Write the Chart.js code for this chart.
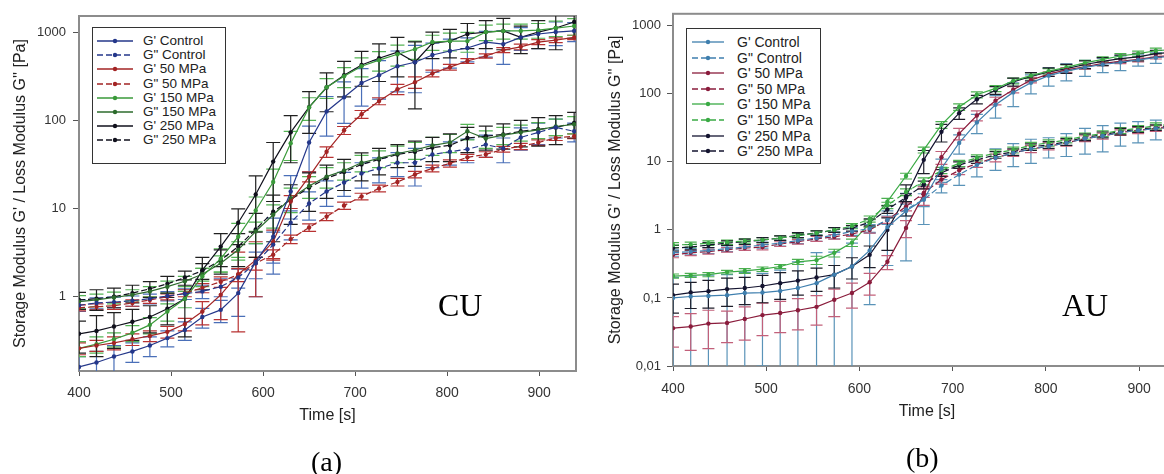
<!DOCTYPE html>
<html>
<head>
<meta charset="utf-8">
<script src="https://cdn.jsdelivr.net/npm/chart.js@4.4.0/dist/chart.umd.min.js"></script>
<style>
  body { margin: 0; width: 1164px; height: 474px; overflow: hidden; background: #fff; position: relative;
         font-family: "Liberation Sans", Arial, sans-serif; }
  .wrap { position: absolute; top: 0; height: 474px; }
  #wrapA { left: 0; width: 600px; }
  #wrapB { left: 590px; width: 620px; }
  .legend { position: absolute; background: #fff; border: 1px solid #333; box-sizing: border-box; color: #222; }
  .legend .row { position: absolute; left: 0; white-space: nowrap; }
  .legend svg { position: absolute; top: 0; }
  .legend span { position: absolute; top: 0; }
  .tag { position: absolute; font-family: "Liberation Serif", "Times New Roman", serif; color: #000; line-height: 1; white-space: nowrap; }
</style>
</head>
<body>
<div class="wrap" id="wrapA"><canvas id="chartA"></canvas></div>
<div class="wrap" id="wrapB"><canvas id="chartB"></canvas></div>
<div class="legend" id="legendA" style="left:92px;top:27px;width:134px;height:137px;font-size:13.5px"></div>
<div class="legend" id="legendB" style="left:686px;top:28px;width:135px;height:136px;font-size:14px"></div>
<div class="tag" style="left:438px;top:289px;font-size:32px">CU</div>
<div class="tag" style="left:1062px;top:289px;font-size:32px">AU</div>
<div class="tag" style="left:311px;top:448px;font-size:28px">(a)</div>
<div class="tag" style="left:906px;top:444px;font-size:28px">(b)</div>
<script>
// measurement times [s]
const times = [400, 419, 438, 458, 477, 496, 515, 534, 554, 573, 592, 611, 630, 650, 669,
  688, 707, 726, 746, 765, 784, 803, 822, 842, 861, 880, 899, 918, 938];

const seriesNames = ["G' Control", 'G" Control', "G' 50 MPa", 'G" 50 MPa',
  "G' 150 MPa", 'G" 150 MPa', "G' 250 MPa", 'G" 250 MPa'];

const xTicks = [400, 500, 600, 700, 800, 900];
const yTicksA = [1, 10, 100, 1000];
const yTickLabelsA = ["1", "10", "100", "1000"];
const yTicksB = [0.01, 0.1, 1, 10, 100, 1000];
const yTickLabelsB = ["0,01", "0,1", "1", "10", "100", "1000"];

// ---- panel (a) CU ----
const gpControlA = [0.16, 0.18, 0.21, 0.24, 0.28, 0.34, 0.42, 0.59, 0.71, 1.1, 2.5, 4.8, 15.6, 56, 126,
  182, 265, 324, 410, 455, 550, 610, 660, 770, 730, 870, 950, 1000, 1030];
const gpControlAErr = [0.05, 0.06, 0.07, 0.06, 0.07, 0.07, 0.1, 0.15, 0.2, 0.5, 1.5, 3, 8, 30, 60,
  90, 120, 150, 200, 250, 200, 220, 200, 250, 300, 250, 300, 300, 250];
const gppControlA = [0.8, 0.85, 0.87, 0.9, 0.95, 1.02, 1.08, 1.15, 1.3, 1.65, 2.4, 3.9, 6.9, 11.4, 15.6,
  19.7, 25, 28.5, 33, 33, 41, 44, 47, 53, 48, 64, 73, 83, 75];
const gppControlAErr = [0.12, 0.12, 0.12, 0.12, 0.12, 0.12, 0.15, 0.2, 0.3, 0.4, 0.8, 1.5, 2.5, 4, 5,
  6, 8, 9, 10, 15, 12, 13, 14, 15, 15, 18, 20, 20, 18];
const gp50A = [0.26, 0.28, 0.30, 0.33, 0.36, 0.40, 0.49, 0.68, 1.05, 1.8, 2.6, 4.2, 12, 23, 44,
  77, 117, 165, 225, 270, 340, 400, 470, 535, 625, 680, 770, 810, 870];
const gp50AErr = [0.04, 0.04, 0.05, 0.05, 0.05, 0.06, 0.08, 0.2, 0.5, 1.4, 1.6, 1.5, 2, 3, 6,
  8, 12, 15, 30, 40, 30, 30, 30, 30, 40, 50, 50, 50, 50];
const gpp50A = [0.75, 0.77, 0.79, 0.85, 0.92, 1.0, 1.1, 1.26, 1.48, 1.78, 2.4, 3.0, 4.5, 6.1, 8.1,
  10.8, 13.7, 16.9, 20, 24.3, 28.5, 32.5, 38, 41, 47, 50.6, 56, 63, 66];
const gpp50AErr = [0.06, 0.06, 0.07, 0.07, 0.08, 0.08, 0.1, 0.15, 0.2, 0.3, 0.4, 0.4, 0.5, 0.6, 0.8,
  1, 1.2, 1.5, 2, 2, 2.5, 3, 3, 3, 3.5, 4, 4, 4, 4];
const gp150A = [0.26, 0.29, 0.33, 0.39, 0.48, 0.68, 0.95, 1.7, 2.7, 4.8, 9.5, 20, 55, 140, 237,
  315, 410, 480, 560, 640, 770, 790, 790, 1000, 1030, 1030, 1050, 1110, 1170];
const gp150AErr = [0.05, 0.06, 0.06, 0.08, 0.1, 0.15, 0.2, 0.4, 0.8, 2, 4, 8, 20, 40, 60,
  80, 100, 120, 150, 150, 150, 180, 200, 200, 200, 200, 200, 220, 250];
const gpp150A = [0.88, 0.92, 0.98, 1.05, 1.15, 1.3, 1.5, 1.8, 2.4, 3.4, 5.5, 8.5, 13, 18, 23,
  27, 33, 37, 42, 46, 52, 56, 75, 62, 68, 73, 78, 85, 90];
const gpp150AErr = [0.15, 0.15, 0.15, 0.15, 0.15, 0.2, 0.2, 0.3, 0.5, 0.8, 1.5, 2.5, 4, 5, 6,
  6, 7, 8, 9, 10, 12, 13, 15, 14, 15, 15, 16, 18, 20];
const gp250A = [0.38, 0.41, 0.46, 0.52, 0.59, 0.73, 0.95, 2.0, 3.7, 6.9, 14.4, 34, 73, 141, 235,
  324, 423, 505, 590, 455, 750, 790, 950, 1000, 1030, 870, 1000, 1110, 1300];
const gp250AErr = [0.15, 0.2, 0.2, 0.2, 0.2, 0.25, 0.6, 0.8, 1.5, 3, 9, 22, 40, 70, 110,
  140, 180, 230, 280, 320, 250, 280, 300, 350, 400, 300, 350, 480, 450];
const gpp250A = [0.92, 0.95, 1.0, 1.1, 1.23, 1.4, 1.65, 1.97, 2.6, 3.7, 5.8, 9.2, 12.6, 17.3, 22,
  26, 31.6, 36, 41, 44, 49, 52, 63, 66, 69, 75, 79, 83, 93];
const gpp250AErr = [0.2, 0.25, 0.25, 0.25, 0.25, 0.3, 0.3, 0.4, 0.8, 1.5, 3, 5, 6, 8, 9,
  10, 11, 12, 12, 14, 15, 18, 20, 20, 22, 25, 28, 30, 30];

// ---- panel (b) AU ----
const gpControlB = [0.10, 0.105, 0.107, 0.11, 0.118, 0.12, 0.127, 0.14, 0.165, 0.22, 0.29, 0.5, 1.1, 1.9, 2.8,
  8, 19, 38, 69, 105, 145, 185, 215, 245, 270, 290, 315, 340, 360];
const gpControlBErr = [0.1, 0.105, 0.11, 0.11, 0.12, 0.11, 0.13, 0.2, 0.3, 0.25, 0.35, 0.42, 0.8, 1.55, 1.6,
  3, 6, 12, 25, 40, 45, 55, 60, 65, 65, 70, 60, 60, 65];
const gppControlB = [0.46, 0.48, 0.5, 0.53, 0.56, 0.6, 0.64, 0.7, 0.76, 0.84, 0.95, 1.05, 1.4, 2.0, 2.8,
  4.5, 6.5, 9, 11.5, 13.5, 15.5, 17, 19, 22, 24, 27, 29, 31, 32];
const gppControlBErr = [0.05, 0.05, 0.05, 0.05, 0.06, 0.06, 0.06, 0.07, 0.08, 0.1, 0.12, 0.15, 0.2, 0.4, 0.6,
  1, 2, 3, 4, 5, 6, 5.6, 7, 9, 10, 10, 10, 10, 10];
const gp50B = [0.036, 0.038, 0.042, 0.043, 0.049, 0.056, 0.06, 0.066, 0.074, 0.094, 0.118, 0.17, 0.34, 1.07, 3.3,
  11.7, 26, 48, 79, 115, 160, 195, 225, 250, 280, 300, 320, 350, 370];
const gp50BErr = [0.017, 0.021, 0.024, 0.021, 0.025, 0.028, 0.029, 0.032, 0.034, 0.041, 0.047, 0.06, 0.08, 0.3, 1,
  2.5, 5, 8, 10, 12, 15, 15, 18, 20, 20, 22, 25, 25, 25];
const gpp50B = [0.43, 0.46, 0.48, 0.51, 0.54, 0.56, 0.62, 0.67, 0.74, 0.79, 0.87, 1.0, 1.4, 2.2, 3.5,
  5.5, 7.5, 9.5, 11.5, 13.5, 15.5, 17, 19, 22, 24, 27, 29, 31, 33];
const gpp50BErr = [0.04, 0.04, 0.04, 0.04, 0.04, 0.05, 0.05, 0.05, 0.06, 0.06, 0.07, 0.1, 0.15, 0.3, 0.5,
  0.8, 1, 1.2, 1.5, 1.5, 1.8, 2, 2, 2.2, 2.5, 2.5, 3, 3, 3];
const gp150B = [0.21, 0.215, 0.22, 0.24, 0.25, 0.265, 0.29, 0.34, 0.36, 0.46, 0.65, 1.26, 2.6, 6.2, 15,
  35, 64, 97, 120, 155, 185, 215, 245, 285, 320, 360, 390, 430, 450];
const gp150BErr = [0.015, 0.015, 0.015, 0.015, 0.02, 0.02, 0.02, 0.03, 0.05, 0.06, 0.08, 0.15, 0.3, 0.6, 1.5,
  4, 7, 10, 12, 15, 18, 20, 22, 25, 28, 30, 35, 40, 40];
const gpp150B = [0.6, 0.61, 0.64, 0.66, 0.69, 0.71, 0.76, 0.82, 0.9, 1.0, 1.14, 1.45, 2.3, 3.6, 5.2,
  7.5, 9.5, 11.5, 13.5, 15, 17.5, 19, 21, 24, 26, 29, 31, 34, 36];
const gpp150BErr = [0.05, 0.05, 0.05, 0.05, 0.05, 0.06, 0.06, 0.06, 0.07, 0.08, 0.1, 0.15, 0.25, 0.4, 0.6,
  0.8, 1, 1.2, 1.5, 1.5, 1.8, 2, 2, 2.5, 2.5, 3, 3, 3.5, 3.5];
const gp250B = [0.11, 0.12, 0.126, 0.135, 0.14, 0.15, 0.165, 0.18, 0.2, 0.22, 0.29, 0.43, 1.0, 3.1, 10.7,
  27.6, 52, 83, 113, 150, 180, 210, 235, 270, 300, 330, 350, 390, 410];
const gp250BErr = [0.05, 0.05, 0.055, 0.06, 0.06, 0.065, 0.07, 0.07, 0.075, 0.08, 0.1, 0.15, 0.5, 1.5, 4,
  8, 10, 12, 15, 20, 25, 30, 35, 35, 40, 40, 45, 45, 50];
const gpp250B = [0.54, 0.56, 0.6, 0.64, 0.67, 0.71, 0.76, 0.84, 0.9, 1.0, 1.06, 1.3, 2.0, 3.0, 4.6,
  6.9, 9, 10.7, 12.7, 14, 16.6, 17.8, 19.7, 23, 25, 28, 30, 32, 34];
const gpp250BErr = [0.05, 0.05, 0.05, 0.05, 0.06, 0.06, 0.06, 0.07, 0.07, 0.08, 0.1, 0.15, 0.25, 0.4, 0.6,
  0.8, 1, 1.2, 1.4, 1.5, 1.8, 2, 2.2, 2.5, 2.5, 3, 3, 3, 3.5];

// line look per series: [line colour, error bar colour, dashed]
const styleA = [
  ["#24378a", "#4a6fb8", false], ["#24378a", "#4a6fb8", true],
  ["#a32424", "#b83232", false], ["#a32424", "#b83232", true],
  ["#3a9a3a", "#55b455", false], ["#2c6b2c", "#55b455", false],
  ["#10101c", "#202020", false], ["#10101c", "#202020", true]
];
const styleB = [
  ["#3f7fae", "#5a93b8", false], ["#3f7fae", "#5a93b8", true],
  ["#8a1c3c", "#c2607a", false], ["#8a1c3c", "#c2607a", true],
  ["#3aaa44", "#4caf50", false], ["#3aaa44", "#4caf50", true],
  ["#141430", "#1e1e2a", false], ["#141430", "#1e1e2a", true]
];

const seriesA = [gpControlA, gppControlA, gp50A, gpp50A, gp150A, gpp150A, gp250A, gpp250A];
const errA = [gpControlAErr, gppControlAErr, gp50AErr, gpp50AErr, gp150AErr, gpp150AErr, gp250AErr, gpp250AErr];
const seriesB = [gpControlB, gppControlB, gp50B, gpp50B, gp150B, gpp150B, gp250B, gpp250B];
const errB = [gpControlBErr, gppControlBErr, gp50BErr, gpp50BErr, gp150BErr, gpp150BErr, gp250BErr, gpp250BErr];

const font = "'Liberation Sans', Arial, sans-serif";

// draws vertical error bars with caps under the lines
const errorBars = {
  id: "errorBars",
  beforeDatasetsDraw(chart, args, opts) {
    const { ctx, chartArea, scales: { x, y } } = chart;
    const cap = opts.cap || 6;
    ctx.save();
    ctx.beginPath();
    ctx.rect(chartArea.left, chartArea.top, chartArea.width, chartArea.height);
    ctx.clip();
    ctx.lineWidth = 1.2;
    chart.data.datasets.forEach((ds) => {
      ctx.strokeStyle = ds.errorColor;
      ds.data.forEach((p, i) => {
        const e = ds.errors[i];
        const px = x.getPixelForValue(p.x);
        const top = y.getPixelForValue(p.y + e);
        const lo = p.y - e;
        const bot = lo > 0 ? y.getPixelForValue(lo) : chartArea.bottom;
        ctx.beginPath();
        ctx.moveTo(px, top);
        ctx.lineTo(px, bot);
        ctx.moveTo(px - cap, top);
        ctx.lineTo(px + cap, top);
        if (lo > 0) {
          ctx.moveTo(px - cap, bot);
          ctx.lineTo(px + cap, bot);
        }
        ctx.stroke();
      });
    });
    ctx.restore();
  }
};

// grey box round the plot area
const frame = {
  id: "frame",
  beforeDatasetsDraw(chart) {
    const { ctx, chartArea } = chart;
    ctx.save();
    ctx.strokeStyle = "#8c8c8c";
    ctx.lineWidth = 2;
    ctx.strokeRect(chartArea.left, chartArea.top, chartArea.width, chartArea.height);
    ctx.restore();
  }
};

function buildDatasets(series, errs, style) {
  return series.map((vals, k) => ({
    label: seriesNames[k],
    data: times.map((t, i) => ({ x: t, y: vals[i] })),
    errors: errs[k],
    errorColor: style[k][1],
    borderColor: style[k][0],
    backgroundColor: style[k][0],
    borderWidth: 1.2,
    borderDash: style[k][2] ? [6, 3] : [],
    pointRadius: 2.2,
    pointBorderWidth: 0,
    pointBackgroundColor: style[k][0],
    tension: 0,
    fill: false
  }));
}

function makeChart(id, o) {
  return new Chart(document.getElementById(id), {
    type: "line",
    data: { datasets: buildDatasets(o.series, o.errs, o.style) },
    plugins: [frame, errorBars],
    options: {
      responsive: true,
      maintainAspectRatio: false,
      animation: false,
      layout: { padding: o.padding },
      plugins: {
        legend: { display: false },
        tooltip: { enabled: false },
        errorBars: { cap: o.cap }
      },
      scales: {
        x: {
          type: "linear",
          min: 400,
          max: o.xMax,
          afterBuildTicks: (s) => { s.ticks = xTicks.map((v) => ({ value: v })); },
          afterFit: (s) => { s.height = o.xHeight; },
          grid: { drawOnChartArea: false, drawTicks: true, tickLength: 5, color: "#555" },
          border: { display: true, color: "#666", width: 1.5 },
          ticks: { padding: o.xPad, color: "#333", font: { size: 14, family: font } },
          title: { display: true, text: "Time [s]", color: "#222", padding: { top: 0, bottom: 0 },
                   font: { size: 16, family: font, lineHeight: 1.2 } }
        },
        y: {
          type: "logarithmic",
          min: o.yMin,
          max: o.yMax,
          afterBuildTicks: (s) => { s.ticks = o.yTicks.map((v) => ({ value: v })); },
          afterFit: (s) => { s.width = o.yWidth; },
          grid: { drawOnChartArea: false, drawTicks: true, tickLength: 6, color: "#555" },
          border: { display: true, color: "#666", width: 1.5 },
          ticks: { padding: o.yPad, color: "#333", font: { size: 13, family: font },
                   callback: (v, i) => o.yLabels[i] },
          title: { display: true, text: "Storage Modulus G' / Loss Modulus G'' [Pa]", color: "#222",
                   padding: { top: o.titlePad, bottom: 0 }, font: { size: 16, family: font, lineHeight: 1.2 } }
        }
      }
    }
  });
}

makeChart("chartA", {
  series: seriesA, errs: errA, style: styleA, cap: 7,
  padding: { left: 0, top: 16, right: 24, bottom: 49 },
  xMax: 940, xHeight: 54, xPad: 9,
  yMin: 0.144, yMax: 1520, yTicks: yTicksA, yLabels: yTickLabelsA, yWidth: 79, yPad: 7, titlePad: 11
});

makeChart("chartB", {
  series: seriesB, errs: errB, style: styleB, cap: 6,
  padding: { left: 0, top: 13, right: 29, bottom: 53 },
  xMax: 945, xHeight: 55, xPad: 10,
  yMin: 0.01, yMax: 1500, yTicks: yTicksB, yLabels: yTickLabelsB, yWidth: 83, yPad: 6, titlePad: 16
});

// legends: line sample with a dot, then the series name
function buildLegend(id, style, rowTop, rowGap, lineX, lineW, textX) {
  const box = document.getElementById(id);
  seriesNames.forEach((name, k) => {
    const cy = rowTop + k * rowGap;
    const row = document.createElement("div");
    row.className = "row";
    row.style.top = (cy - 8) + "px";
    row.style.height = "16px";
    const dash = style[k][2] ? ' stroke-dasharray="6 3"' : "";
    row.innerHTML =
      '<svg width="' + lineW + '" height="16" style="left:' + lineX + 'px">' +
      '<line x1="0" y1="8" x2="' + lineW + '" y2="8" stroke="' + style[k][0] + '" stroke-width="1.3"' + dash + "/>" +
      '<circle cx="' + lineW / 2 + '" cy="8" r="2.2" fill="' + style[k][0] + '"/></svg>' +
      '<span style="left:' + textX + 'px;line-height:16px">' + name + "</span>";
    box.appendChild(row);
  });
}
buildLegend("legendA", styleA, 13, 14.2, 4, 36, 50);
buildLegend("legendB", styleB, 13, 15.6, 5, 32, 50);
</script>
</body>
</html>
